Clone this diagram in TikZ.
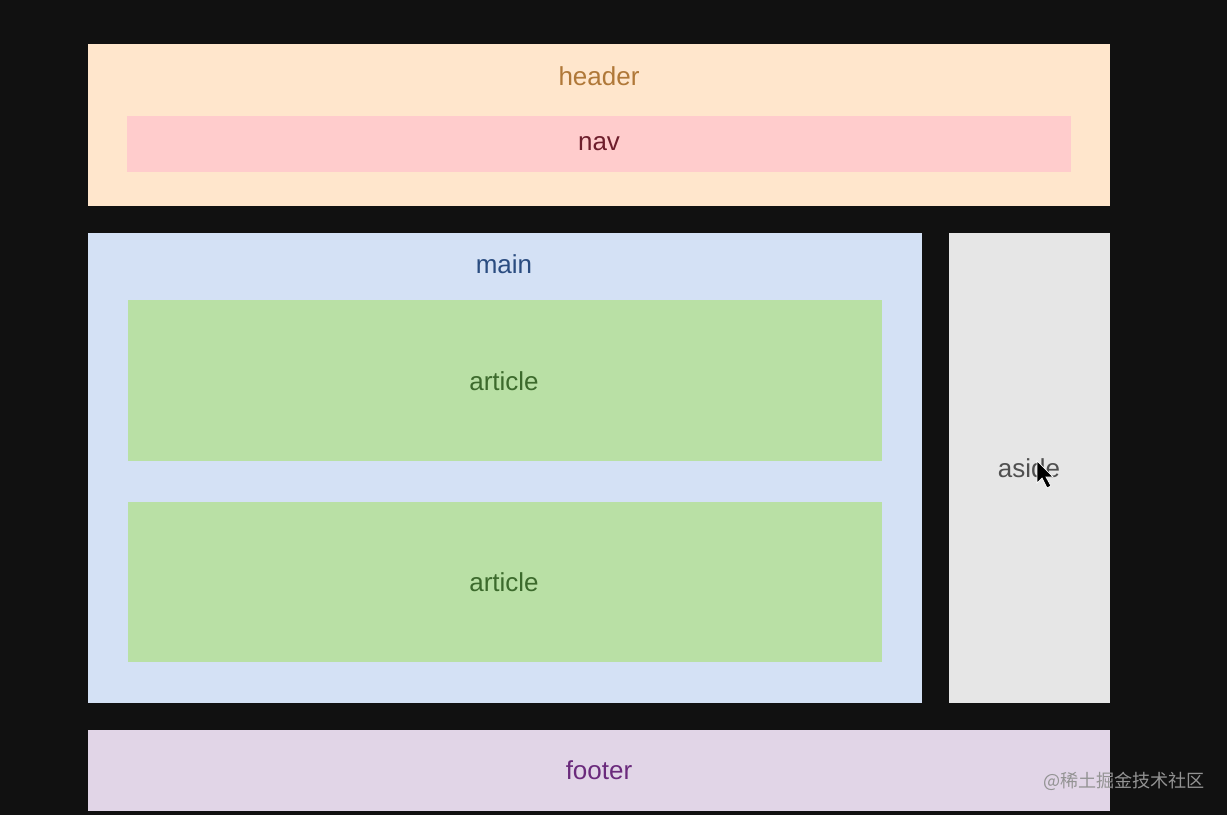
\documentclass[tikz,border=0pt]{standalone}
\usepackage{fontspec}
\setmainfont{Liberation Sans}
\newfontfamily\cjk{Noto Sans CJK SC}
\usetikzlibrary{positioning}

\definecolor{bgdark}{HTML}{111111}
\definecolor{headerfill}{HTML}{FFE6CC}
\definecolor{navfill}{HTML}{FFCCCC}
\definecolor{mainfill}{HTML}{D4E1F5}
\definecolor{articlefill}{HTML}{B9E0A5}
\definecolor{asidefill}{HTML}{E6E6E6}
\definecolor{footerfill}{HTML}{E1D5E7}
\definecolor{headertext}{HTML}{B07838}
\definecolor{navtext}{HTML}{6E1E2C}
\definecolor{maintext}{HTML}{2A4C80}
\definecolor{articletext}{HTML}{3C6A2C}
\definecolor{asidetext}{HTML}{505050}
\definecolor{footertext}{HTML}{6A2A7C}

\tikzset{
  tag/.style={font=\fontsize{14.8}{17}\selectfont, inner sep=0pt}
}

\begin{document}
\begin{tikzpicture}[x=0.02cm, y=-0.02cm]
    % Page
    % ---------------------
    \fill[bgdark] (0,0) rectangle (1227,815);
    \useasboundingbox (0,0) rectangle (1227,815);

    % Header and nav
    % ---------------------
    \fill[headerfill] (88,44) rectangle (1110,206);
    \fill[navfill] (127,116) rectangle (1071,172);
    \node[tag, text=headertext] (header) at (599,76) {header};
    \node[tag, text=navtext] (nav) at (599,144) {nav};

    % Main with two articles
    % ---------------------
    \fill[mainfill] (88,233) rectangle (922,703);
    \fill[articlefill] (128,300) rectangle (882,461);
    \fill[articlefill] (128,502) rectangle (882,662);
    \node[tag, text=maintext] (main) at (504,264) {main};
    \node[tag, text=articletext] (article1) at (504,381) {article};
    \node[tag, text=articletext] (article2) at (504,582) {article};

    % Aside
    % ---------------------
    \fill[asidefill] (949,233) rectangle (1110,703);
    \node[tag, text=asidetext] (aside) at (1029,468) {aside};
    \fill[black, draw=white, line width=0.4pt]
      (1037,461) -- (1037,483) -- (1042,478) -- (1047,488) -- (1051,486)
      -- (1046,477) -- (1053,477) -- cycle;

    % Footer
    % ---------------------
    \fill[footerfill] (88,730) rectangle (1110,811);
    \node[tag, text=footertext] (footer) at (599,770) {footer};

    \node[font=\cjk\fontsize{10.3}{12}\selectfont, text=gray!85!white, inner sep=0pt]
      (mark) at (1124,781) {@稀土掘金技术社区};
\end{tikzpicture}
\end{document}
